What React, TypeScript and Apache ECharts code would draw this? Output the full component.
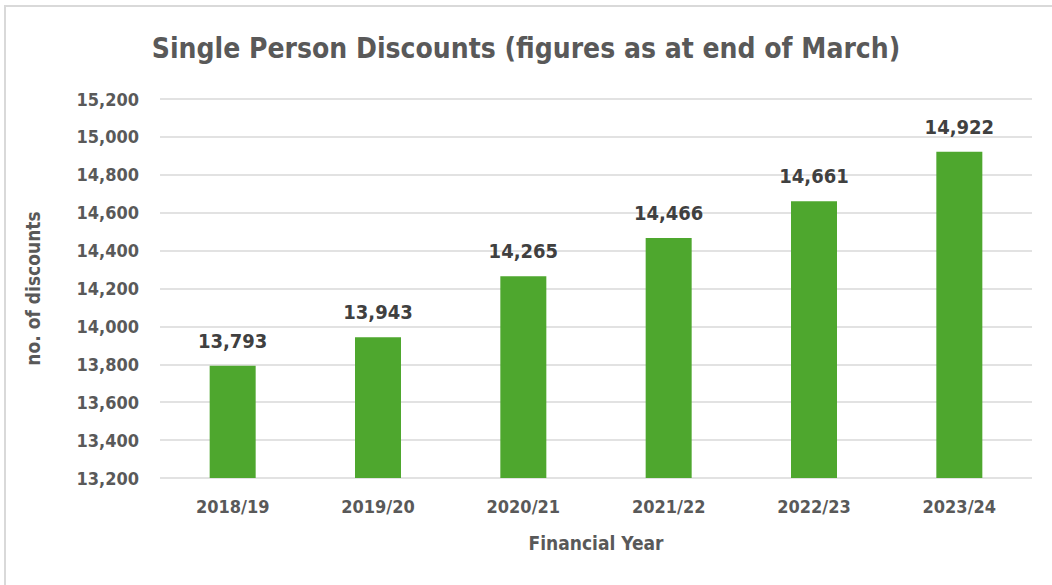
import React, { useEffect, useRef } from "react";
import * as echarts from "echarts";

const categories = ["2018/19", "2019/20", "2020/21", "2021/22", "2022/23", "2023/24"];
const discounts = [13793, 13943, 14265, 14466, 14661, 14922];
const yMin = 13200;
const yMax = 15200;
const yStep = 200;

const FONT = "'DejaVu Sans Condensed', 'Liberation Sans Narrow', sans-serif";
const GRAY = "#595959";

export default function App() {
  const ref = useRef<HTMLDivElement>(null);
  useEffect(() => {
    if (!ref.current) return;
    const chart = echarts.init(ref.current, null, { renderer: "svg" });
    chart.setOption({
      animation: false,
      title: {
        text: "Single Person Discounts (figures as at end of March)",
        left: "center",
        top: 29,
        textStyle: { fontFamily: FONT, fontWeight: "bold", fontSize: 28, color: GRAY },
      },
      grid: { left: 160, right: 20, top: 99, bottom: 107 },
      xAxis: {
        type: "category",
        data: categories,
        axisTick: { show: false },
        axisLine: { show: false },
        axisLabel: { fontFamily: FONT, fontWeight: "bold", fontSize: 18, color: GRAY, margin: 19 },
        name: "Financial Year",
        nameLocation: "middle",
        nameGap: 55,
        nameTextStyle: { fontFamily: FONT, fontWeight: "bold", fontSize: 19, color: GRAY },
      },
      yAxis: {
        type: "value",
        min: yMin,
        max: yMax,
        interval: yStep,
        axisLine: { show: false },
        axisTick: { show: false },
        splitLine: { lineStyle: { color: "#D9D9D9", width: 1.5 } },
        axisLabel: {
          fontFamily: FONT,
          fontWeight: "bold",
          fontSize: 18,
          color: GRAY,
          margin: 21,
          formatter: (v: number) => v.toLocaleString("en-US"),
        },
        name: "no. of discounts",
        nameLocation: "middle",
        nameGap: 118,
        nameTextStyle: { fontFamily: FONT, fontWeight: "bold", fontSize: 19, color: GRAY },
      },
      series: [
        {
          type: "bar",
          data: discounts,
          barWidth: 46,
          itemStyle: { color: "#4EA72E" },
          label: {
            show: true,
            position: "top",
            distance: 15,
            fontFamily: FONT,
            fontWeight: "bold",
            fontSize: 20,
            color: "#404040",
            formatter: (p: any) => Number(p.value).toLocaleString("en-US"),
          },
        },
      ],
    });
    return () => chart.dispose();
  }, []);
  return (
    <div style={{ position: "absolute", left: 0, top: 0, width: 1052, height: 585, overflow: "hidden", background: "#fff" }}>
      <div style={{ position: "absolute", left: 4, top: 5, width: 1060, height: 600, border: "2px solid #D9D9D9", boxSizing: "border-box" }} />
      <div ref={ref} style={{ position: "absolute", left: 0, top: 0, width: 1052, height: 585 }} />
    </div>
  );
}
